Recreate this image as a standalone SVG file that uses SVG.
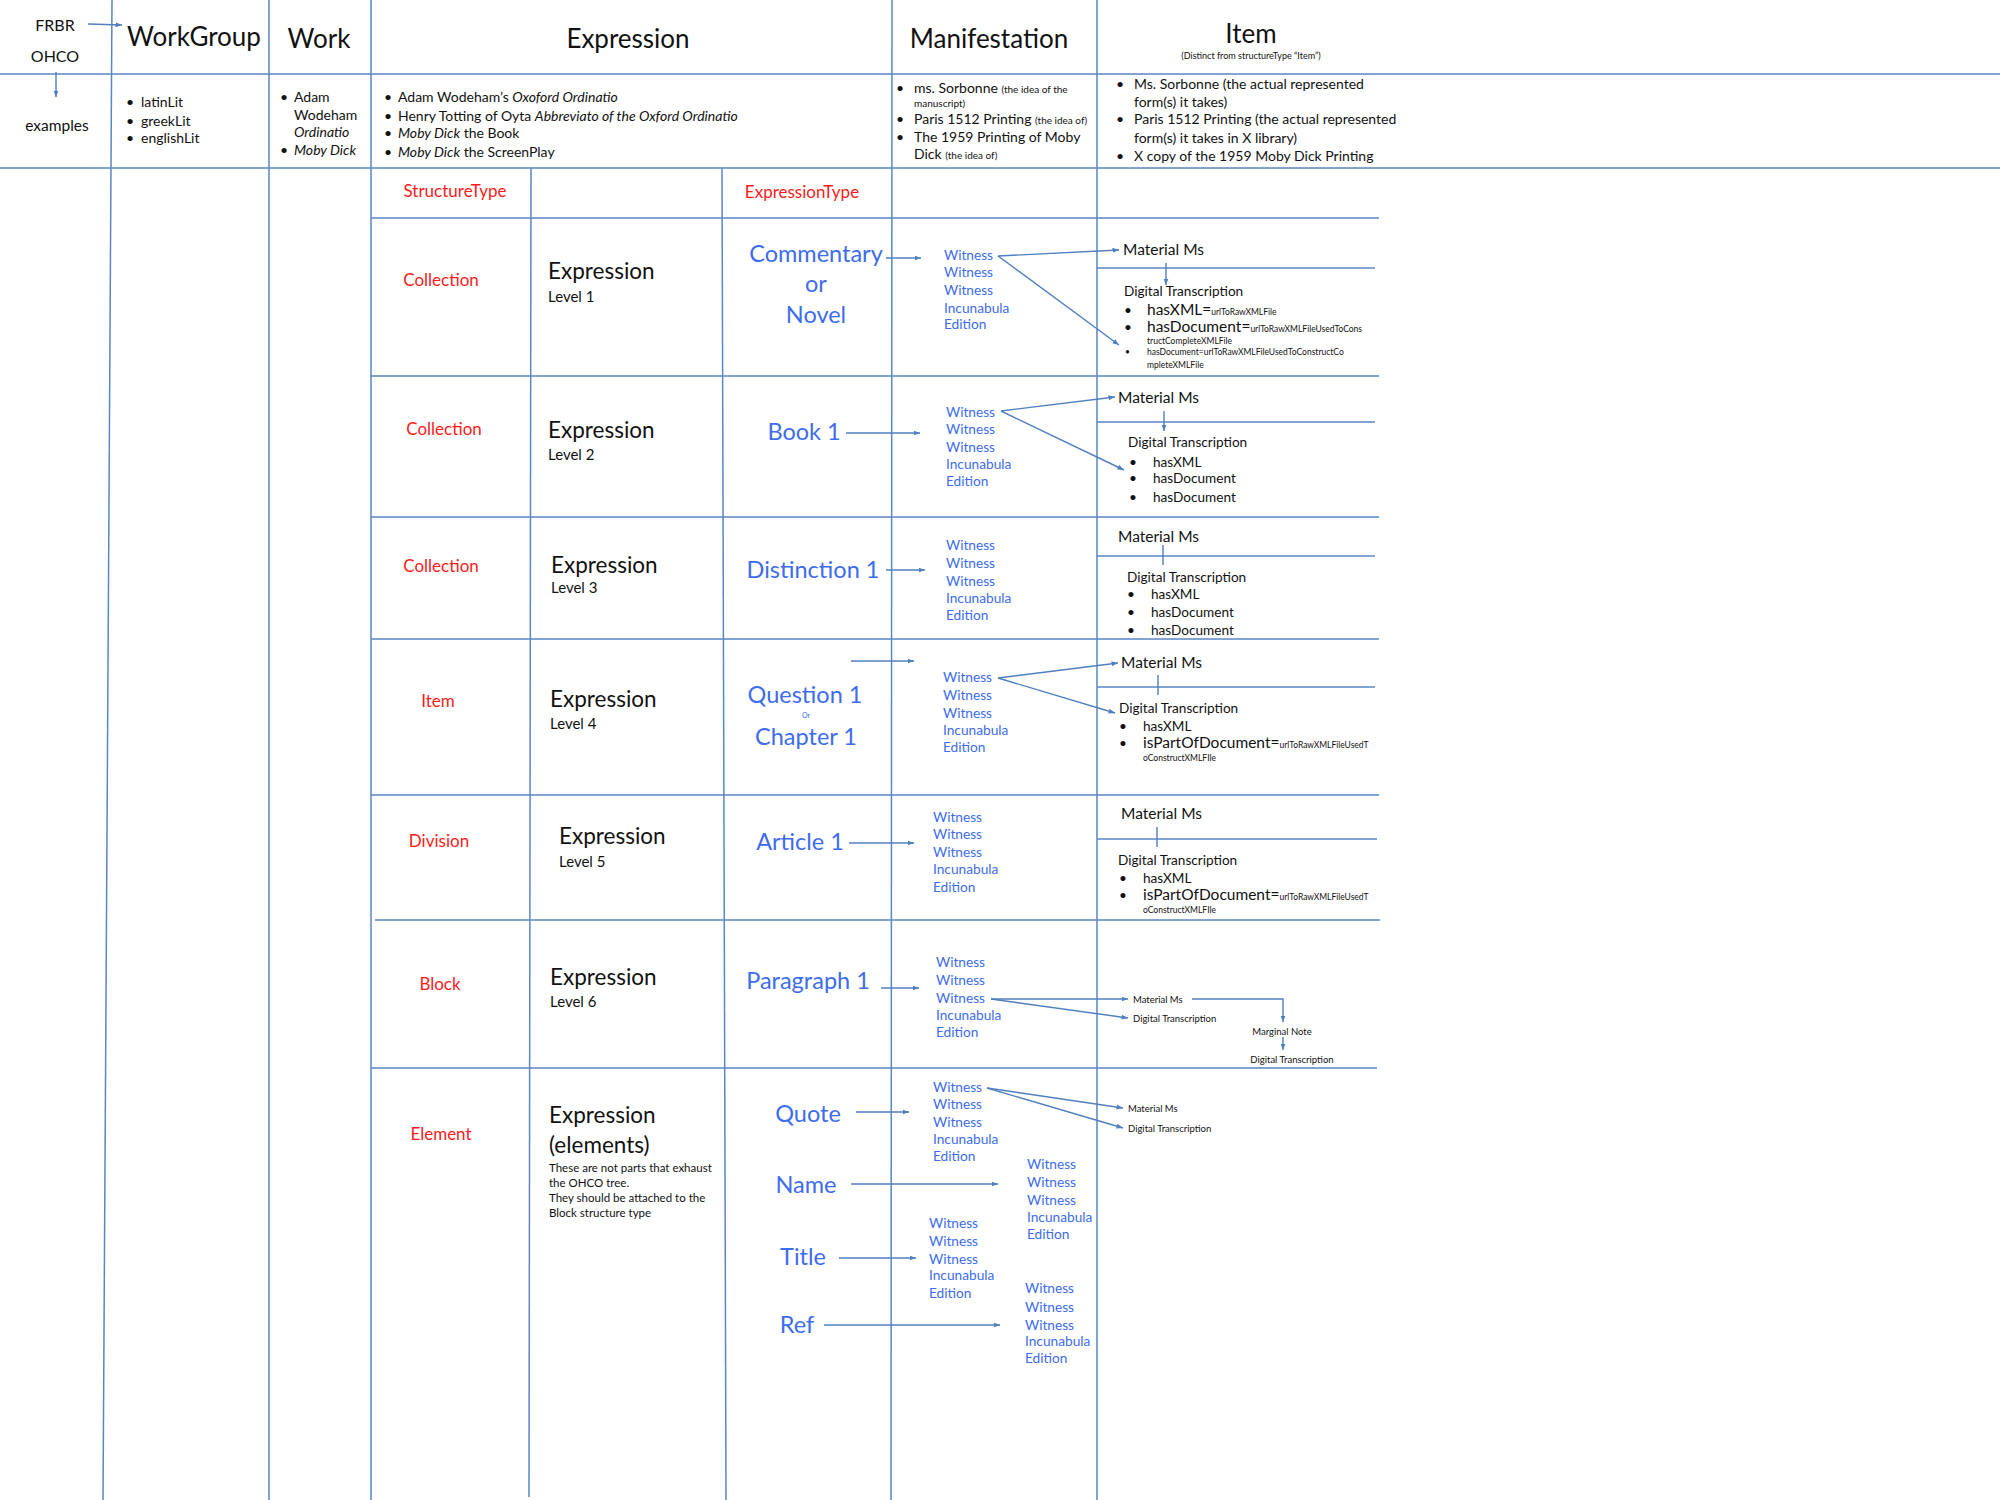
<svg xmlns="http://www.w3.org/2000/svg" width="2000" height="1500" viewBox="0 0 2000 1500">
<defs>
<marker id="ah" markerWidth="7" markerHeight="6" refX="6.5" refY="3" orient="auto" markerUnits="userSpaceOnUse">
<path d="M0,0.5 L6.5,3 L0,5.5 z" fill="#4f7fbf"/>
</marker>
</defs>
<style>
text{font-family:Lato,"Open Sans","Liberation Sans",sans-serif;fill:#111}
.grid line{stroke:#5a86c2;stroke-width:1.5}
.sub line{stroke:#5a86c2;stroke-width:1.5}
.cn line,.cn polyline{stroke:#4f7fbf;stroke-width:1.4;fill:none}
.arr{marker-end:url(#ah)}
.hd{font-size:26px}
.ex{font-size:14px}
.red{fill:#ff1a1a;font-size:17px}
.blue{fill:#3d6cf0}
.big{font-size:23.5px}
.wit{font-size:13.7px}
.wit text{fill:#3d6cf0}
.exl{font-size:22.5px}
.lvl{font-size:15px}
.mm{font-size:15.5px}
.dt{font-size:13.6px}
.sm{font-size:8.5px}
.tiny{font-size:9.5px}
.note{font-size:11.5px}
.mid{text-anchor:middle}
.it{font-style:italic}
</style>
<rect width="2000" height="1500" fill="#fff"/>

<g id="grid" class="grid">
<line x1="0" y1="74" x2="2000" y2="74"/>
<line x1="0" y1="168" x2="2000" y2="168"/>
<line x1="112" y1="0" x2="103" y2="1500"/>
<line x1="269" y1="0" x2="269" y2="1500"/>
<line x1="371" y1="0" x2="371" y2="1500"/>
<line x1="892" y1="0" x2="891" y2="1500"/>
<line x1="1097" y1="0" x2="1097" y2="1500"/>
<line x1="531" y1="168" x2="529" y2="1497"/>
<line x1="722" y1="168" x2="726" y2="1500"/>
<line x1="371" y1="218" x2="1379" y2="218"/>
<line x1="371" y1="376" x2="1379" y2="376"/>
<line x1="371" y1="517" x2="1379" y2="517"/>
<line x1="371" y1="639" x2="1379" y2="639"/>
<line x1="371" y1="795" x2="1379" y2="795"/>
<line x1="375" y1="920" x2="1380" y2="920"/>
<line x1="371" y1="1068" x2="1377" y2="1068"/>
</g>
<g id="item-sublines" class="sub">
<line x1="1097" y1="268" x2="1375" y2="268"/>
<line x1="1097" y1="422" x2="1375" y2="422"/>
<line x1="1097" y1="556" x2="1375" y2="556"/>
<line x1="1097" y1="687" x2="1375" y2="687"/>
<line x1="1097" y1="839" x2="1377" y2="839"/>
</g>

<g id="header">
<text x="55" y="31" class="mid" font-size="16">FRBR</text>
<text x="55" y="62" class="mid" font-size="16">OHCO</text>
<text x="57" y="131" class="mid" font-size="15.5">examples</text>
<text x="194" y="46" class="mid hd">WorkGroup</text>
<text x="319" y="48" class="mid hd">Work</text>
<text x="628" y="48" class="mid hd">Expression</text>
<text x="989" y="48" class="mid hd">Manifestation</text>
<text x="1251" y="43" class="mid hd">Item</text>
<text x="1251" y="59" class="mid" font-size="9">(Distinct from structureType “Item”)</text>
</g>

<g id="examples-workgroup" class="ex">
<text x="126" y="107">•</text><text x="141" y="107">latinLit</text>
<text x="126" y="126">•</text><text x="141" y="126">greekLit</text>
<text x="126" y="143">•</text><text x="141" y="143">englishLit</text>
</g>
<g id="examples-work" class="ex">
<text x="280" y="102">•</text><text x="294" y="102">Adam</text>
<text x="294" y="120">Wodeham</text>
<text x="294" y="137" class="it">Ordinatio</text>
<text x="280" y="155">•</text><text x="294" y="155" class="it">Moby Dick</text>
</g>
<g id="examples-expression" class="ex">
<text x="384" y="102">•</text><text x="398" y="102">Adam Wodeham’s <tspan class="it">Oxoford Ordinatio</tspan></text>
<text x="384" y="121">•</text><text x="398" y="121">Henry Totting of Oyta <tspan class="it">Abbreviato of the Oxford Ordinatio</tspan></text>
<text x="384" y="138">•</text><text x="398" y="138"><tspan class="it">Moby Dick</tspan> the Book</text>
<text x="384" y="157">•</text><text x="398" y="157"><tspan class="it">Moby Dick</tspan> the ScreenPlay</text>
</g>
<g id="examples-manifestation" class="ex">
<text x="896" y="93">•</text><text x="914" y="93">ms. Sorbonne <tspan font-size="10">(the idea of the</tspan></text>
<text x="914" y="107" font-size="10">manuscript)</text>
<text x="896" y="124">•</text><text x="914" y="124">Paris 1512 Printing <tspan font-size="10">(the idea of)</tspan></text>
<text x="896" y="142">•</text><text x="914" y="142">The 1959 Printing of Moby</text>
<text x="914" y="159">Dick <tspan font-size="10">(the idea of)</tspan></text>
</g>
<g id="examples-item" class="ex">
<text x="1116" y="89">•</text><text x="1134" y="89">Ms. Sorbonne (the actual represented</text>
<text x="1134" y="107">form(s) it takes)</text>
<text x="1116" y="124">•</text><text x="1134" y="124">Paris 1512 Printing (the actual represented</text>
<text x="1134" y="143">form(s) it takes in X library)</text>
<text x="1116" y="161">•</text><text x="1134" y="161">X copy of the 1959 Moby Dick Printing</text>
</g>

<g id="column-heads">
<text x="455" y="197" class="mid red">StructureType</text>
<text x="802" y="198" class="mid red">ExpressionType</text>
</g>

<g id="row1">
<text x="441" y="286" class="mid red">Collection</text>
<text x="548" y="279" class="exl">Expression</text>
<text x="548" y="302" class="lvl">Level 1</text>
<text x="816" y="262" class="mid blue big">Commentary</text>
<text x="816" y="292" class="mid blue big">or</text>
<text x="816" y="323" class="mid blue big">Novel</text>
<g class="wit"><text x="944" y="260">Witness</text><text x="944" y="277">Witness</text><text x="944" y="295">Witness</text><text x="944" y="313">Incunabula</text><text x="944" y="329">Edition</text></g>
<text x="1123" y="255" class="mm">Material Ms</text>
<text x="1124" y="296" class="dt">Digital Transcription</text>
<text x="1124" y="315" class="dt">•</text><text x="1147" y="315" class="mm">hasXML=<tspan class="sm">urlToRawXMLFile</tspan></text>
<text x="1124" y="332" class="dt">•</text><text x="1147" y="332" class="mm">hasDocument=<tspan class="sm">urlToRawXMLFileUsedToCons</tspan></text>
<text x="1147" y="344" class="sm">tructCompleteXMLFile</text>
<text x="1125" y="355" class="sm">•</text><text x="1147" y="355" class="sm">hasDocument=urlToRawXMLFileUsedToConstructCo</text>
<text x="1147" y="368" class="sm">mpleteXMLFile</text>
</g>

<g id="row2">
<text x="444" y="435" class="mid red">Collection</text>
<text x="548" y="438" class="exl">Expression</text>
<text x="548" y="460" class="lvl">Level 2</text>
<text x="804" y="440" class="mid blue big">Book 1</text>
<g class="wit"><text x="946" y="417">Witness</text><text x="946" y="434">Witness</text><text x="946" y="452">Witness</text><text x="946" y="469">Incunabula</text><text x="946" y="486">Edition</text></g>
<text x="1118" y="403" class="mm">Material Ms</text>
<text x="1128" y="447" class="dt">Digital Transcription</text>
<text x="1129" y="467" class="dt">•</text><text x="1153" y="467" class="dt">hasXML</text>
<text x="1129" y="483" class="dt">•</text><text x="1153" y="483" class="dt">hasDocument</text>
<text x="1129" y="502" class="dt">•</text><text x="1153" y="502" class="dt">hasDocument</text>
</g>

<g id="row3">
<text x="441" y="572" class="mid red">Collection</text>
<text x="551" y="573" class="exl">Expression</text>
<text x="551" y="593" class="lvl">Level 3</text>
<text x="813" y="578" class="mid blue big">Distinction 1</text>
<g class="wit"><text x="946" y="550">Witness</text><text x="946" y="568">Witness</text><text x="946" y="586">Witness</text><text x="946" y="603">Incunabula</text><text x="946" y="620">Edition</text></g>
<text x="1118" y="542" class="mm">Material Ms</text>
<text x="1127" y="582" class="dt">Digital Transcription</text>
<text x="1127" y="599" class="dt">•</text><text x="1151" y="599" class="dt">hasXML</text>
<text x="1127" y="617" class="dt">•</text><text x="1151" y="617" class="dt">hasDocument</text>
<text x="1127" y="635" class="dt">•</text><text x="1151" y="635" class="dt">hasDocument</text>
</g>

<g id="row4">
<text x="438" y="707" class="mid red">Item</text>
<text x="550" y="707" class="exl">Expression</text>
<text x="550" y="729" class="lvl">Level 4</text>
<text x="805" y="703" class="mid blue big">Question 1</text>
<text x="806" y="718" class="mid blue" font-size="7">Or</text>
<text x="806" y="745" class="mid blue big">Chapter 1</text>
<g class="wit"><text x="943" y="682">Witness</text><text x="943" y="700">Witness</text><text x="943" y="718">Witness</text><text x="943" y="735">Incunabula</text><text x="943" y="752">Edition</text></g>
<text x="1121" y="668" class="mm">Material Ms</text>
<text x="1119" y="713" class="dt">Digital Transcription</text>
<text x="1119" y="731" class="dt">•</text><text x="1143" y="731" class="dt">hasXML</text>
<text x="1119" y="748" class="dt">•</text><text x="1143" y="748" class="mm">isPartOfDocument=<tspan class="sm">urlToRawXMLFileUsedT</tspan></text>
<text x="1143" y="761" class="sm">oConstructXMLFIle</text>
</g>

<g id="row5">
<text x="439" y="847" class="mid red">Division</text>
<text x="559" y="844" class="exl">Expression</text>
<text x="559" y="867" class="lvl">Level 5</text>
<text x="800" y="850" class="mid blue big">Article 1</text>
<g class="wit"><text x="933" y="822">Witness</text><text x="933" y="839">Witness</text><text x="933" y="857">Witness</text><text x="933" y="874">Incunabula</text><text x="933" y="892">Edition</text></g>
<text x="1121" y="819" class="mm">Material Ms</text>
<text x="1118" y="865" class="dt">Digital Transcription</text>
<text x="1119" y="883" class="dt">•</text><text x="1143" y="883" class="dt">hasXML</text>
<text x="1119" y="900" class="dt">•</text><text x="1143" y="900" class="mm">isPartOfDocument=<tspan class="sm">urlToRawXMLFileUsedT</tspan></text>
<text x="1143" y="913" class="sm">oConstructXMLFIle</text>
</g>

<g id="row6">
<text x="440" y="990" class="mid red">Block</text>
<text x="550" y="985" class="exl">Expression</text>
<text x="550" y="1007" class="lvl">Level 6</text>
<text x="808" y="989" class="mid blue big">Paragraph 1</text>
<g class="wit"><text x="936" y="967">Witness</text><text x="936" y="985">Witness</text><text x="936" y="1003">Witness</text><text x="936" y="1020">Incunabula</text><text x="936" y="1037">Edition</text></g>
<text x="1133" y="1003" class="tiny">Material Ms</text>
<text x="1133" y="1022" class="tiny">Digital Transcription</text>
<text x="1282" y="1035" class="mid tiny">Marginal Note</text>
<text x="1292" y="1063" class="mid tiny">Digital Transcription</text>
</g>

<g id="row7">
<text x="441" y="1140" class="mid red">Element</text>
<text x="549" y="1123" class="exl">Expression</text>
<text x="549" y="1153" class="exl">(elements)</text>
<text x="549" y="1172" class="note">These are not parts that exhaust</text>
<text x="549" y="1187" class="note">the OHCO tree.</text>
<text x="549" y="1202" class="note">They should be attached to the</text>
<text x="549" y="1217" class="note">Block structure type</text>
<text x="808" y="1122" class="mid blue big">Quote</text>
<g class="wit"><text x="933" y="1092">Witness</text><text x="933" y="1109">Witness</text><text x="933" y="1127">Witness</text><text x="933" y="1144">Incunabula</text><text x="933" y="1161">Edition</text></g>
<text x="1128" y="1112" class="tiny">Material Ms</text>
<text x="1128" y="1132" class="tiny">Digital Transcription</text>
<text x="806" y="1193" class="mid blue big">Name</text>
<g class="wit"><text x="1027" y="1169">Witness</text><text x="1027" y="1187">Witness</text><text x="1027" y="1205">Witness</text><text x="1027" y="1222">Incunabula</text><text x="1027" y="1239">Edition</text></g>
<text x="803" y="1265" class="mid blue big">Title</text>
<g class="wit"><text x="929" y="1228">Witness</text><text x="929" y="1246">Witness</text><text x="929" y="1264">Witness</text><text x="929" y="1280">Incunabula</text><text x="929" y="1298">Edition</text></g>
<text x="797" y="1333" class="mid blue big">Ref</text>
<g class="wit"><text x="1025" y="1293">Witness</text><text x="1025" y="1312">Witness</text><text x="1025" y="1330">Witness</text><text x="1025" y="1346">Incunabula</text><text x="1025" y="1363">Edition</text></g>
</g>

<g id="connectors" class="cn">
<line class="arr" x1="88" y1="24" x2="122" y2="25"/>
<line class="arr" x1="56" y1="72" x2="56" y2="97"/>
<line class="arr" x1="886" y1="258" x2="921" y2="258"/>
<line class="arr" x1="998" y1="256" x2="1119" y2="250"/>
<line class="arr" x1="998" y1="256" x2="1119" y2="345"/>
<line class="arr" x1="1166" y1="263" x2="1166" y2="285"/>
<line class="arr" x1="846" y1="433" x2="920" y2="433"/>
<line class="arr" x1="1001" y1="411" x2="1115" y2="397"/>
<line class="arr" x1="1001" y1="411" x2="1124" y2="470"/>
<line class="arr" x1="1164" y1="411" x2="1164" y2="431"/>
<line class="arr" x1="886" y1="570" x2="925" y2="570"/>
<line x1="1163" y1="545" x2="1163" y2="565"/>
<line class="arr" x1="851" y1="661" x2="914" y2="661"/>
<line class="arr" x1="998" y1="678" x2="1118" y2="663"/>
<line class="arr" x1="998" y1="678" x2="1115" y2="713"/>
<line x1="1158" y1="675" x2="1158" y2="695"/>
<line class="arr" x1="849" y1="843" x2="914" y2="843"/>
<line x1="1157" y1="827" x2="1157" y2="847"/>
<line class="arr" x1="881" y1="988" x2="919" y2="988"/>
<line class="arr" x1="991" y1="999" x2="1128" y2="999"/>
<line class="arr" x1="991" y1="999" x2="1128" y2="1018"/>
<polyline class="arr" points="1192,999 1283,999 1283,1022"/>
<line class="arr" x1="1283" y1="1037" x2="1283" y2="1050"/>
<line class="arr" x1="856" y1="1112" x2="909" y2="1112"/>
<line class="arr" x1="987" y1="1088" x2="1123" y2="1108"/>
<line class="arr" x1="987" y1="1088" x2="1123" y2="1128"/>
<line class="arr" x1="851" y1="1184" x2="998" y2="1184"/>
<line class="arr" x1="839" y1="1258" x2="916" y2="1258"/>
<line class="arr" x1="824" y1="1325" x2="1000" y2="1325"/>
</g>
</svg>
